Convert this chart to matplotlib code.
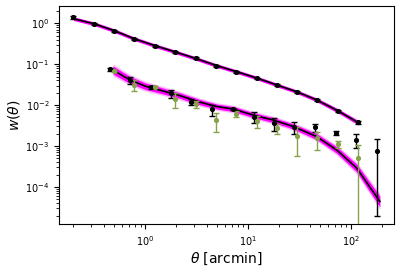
import numpy as np
import matplotlib
matplotlib.use("Agg")
import matplotlib.pyplot as plt

# ---------------------------------------------------------------------------
# Data
# ---------------------------------------------------------------------------
# upper sample: measured w(theta) and model
theta_hi = [0.2, 0.32, 0.5, 0.78, 1.24, 1.95, 3.1, 4.9, 7.7, 12.1, 19.1, 30, 47, 75, 118]
w_hi = [1.40, 0.96, 0.66, 0.41, 0.283, 0.202, 0.139, 0.092, 0.0656, 0.0452,
        0.031, 0.0213, 0.0133, 0.0072, 0.0038]
w_hi_err = [0.10, 0.05, 0.03, 0.02, 0.015, 0.012, 0.008, 0.005, 0.003, 0.002,
            0.0015, 0.001, 0.0008, 0.0005, 0.0004]
model_hi = [1.30, 0.97, 0.66, 0.42, 0.285, 0.200, 0.138, 0.093, 0.066, 0.046,
            0.031, 0.021, 0.0132, 0.0072, 0.0037]
band_hi = [0.11, 0.11, 0.11, 0.11, 0.11, 0.11, 0.11, 0.11, 0.11, 0.11,
           0.11, 0.11, 0.12, 0.13, 0.14]

# lower sample, black points
theta_lo_k = [0.45, 0.71, 1.13, 1.78, 2.8, 4.5, 7.1, 11.3, 17.8, 28.2, 44.7, 70.8, 112, 178]
w_lo_k = [0.075, 0.041, 0.0272, 0.0194, 0.0121, 0.0079, 0.0080, 0.0051, 0.0036,
          0.0029, 0.00287, 0.0021, 0.00143, 0.00077]
w_lo_k_err = [0.006, 0.0085, 0.002, 0.0042, 0.0023, 0.0024, 0.0005, 0.0015, 0.0013,
              0.00095, 0.00068, 0.0002, 0.00053, 0.00075]

# lower sample, green points
theta_lo_g = [0.5, 0.78, 1.24, 1.95, 3.1, 4.9, 7.7, 12.1, 19.1, 30, 47, 75, 118]
w_lo_g = [0.068, 0.031, 0.028, 0.0141, 0.0105, 0.0043, 0.0060, 0.0041, 0.00271,
          0.00176, 0.00154, 0.0011, 0.0005]
w_lo_g_err = [0.005, 0.009, 0.002, 0.0058, 0.0019, 0.0021, 0.001, 0.0014, 0.0007,
              0.0012, 0.00072, 0.0002, 0.00054]

# lower sample model
theta_model_lo = [0.485, 0.7, 1.0, 1.5, 2.2, 3.4, 5.0, 7.2, 11.2, 17.6, 27.5, 46.4,
                  72.6, 113.6, 191]
model_lo = [0.072, 0.042, 0.029, 0.022, 0.0169, 0.0118, 0.0092, 0.0080, 0.0057,
            0.0043, 0.0030, 0.0017, 0.0008, 0.00029, 0.000044]
band_lo = [0.25, 0.22, 0.2, 0.18, 0.17, 0.16, 0.15, 0.15, 0.15, 0.15, 0.16,
           0.18, 0.2, 0.25, 0.35]

MAGENTA = "#ff00ff"
GREEN = "#86a24a"

# ---------------------------------------------------------------------------
# Plot
# ---------------------------------------------------------------------------
fig = plt.figure(figsize=(4.0, 2.72), dpi=100)
ax = fig.add_axes([0.1475, 0.1765, 0.8375, 0.8015])

# model bands
m_hi = np.array(model_hi)
b_hi = np.array(band_hi)
ax.fill_between(theta_hi, m_hi / (1 + b_hi), m_hi * (1 + b_hi),
                color=MAGENTA, lw=0, zorder=1)

m_lo = np.array(model_lo)
b_lo = np.array(band_lo)
ax.fill_between(theta_model_lo, m_lo / (1 + 1.6 * b_lo), m_lo * (1 + 1.6 * b_lo),
                color=MAGENTA, alpha=0.3, lw=0, zorder=1)
ax.fill_between(theta_model_lo, m_lo / (1 + b_lo), m_lo * (1 + b_lo),
                color=MAGENTA, lw=0, zorder=1)

ax.plot(theta_hi, model_hi, color="black", lw=1.2, zorder=2)
ax.plot(theta_model_lo, model_lo, color="black", lw=1.2, zorder=2)

# measurements
ax.errorbar(theta_hi, w_hi, yerr=w_hi_err, fmt="o", color="black", ms=2.7,
            elinewidth=1, capsize=2.5, zorder=3)
ax.errorbar(theta_lo_k, w_lo_k, yerr=w_lo_k_err, fmt="o", color="black", ms=2.7,
            elinewidth=1, capsize=2.5, zorder=3)
ax.errorbar(theta_lo_g, w_lo_g, yerr=w_lo_g_err, fmt="o", color=GREEN, ms=2.7,
            elinewidth=1, capsize=2.5, zorder=3)

ax.set_xscale("log")
ax.set_yscale("log")
ax.set_xlim(0.145, 262)
ax.set_ylim(1.24e-5, 2.65)
ax.tick_params(labelsize=7)
ax.set_xlabel(r"$\theta$ [arcmin]", fontsize=10, labelpad=2)
ax.set_ylabel(r"$w(\theta)$", fontsize=10, labelpad=2)

fig.savefig("out.png", dpi=100)
